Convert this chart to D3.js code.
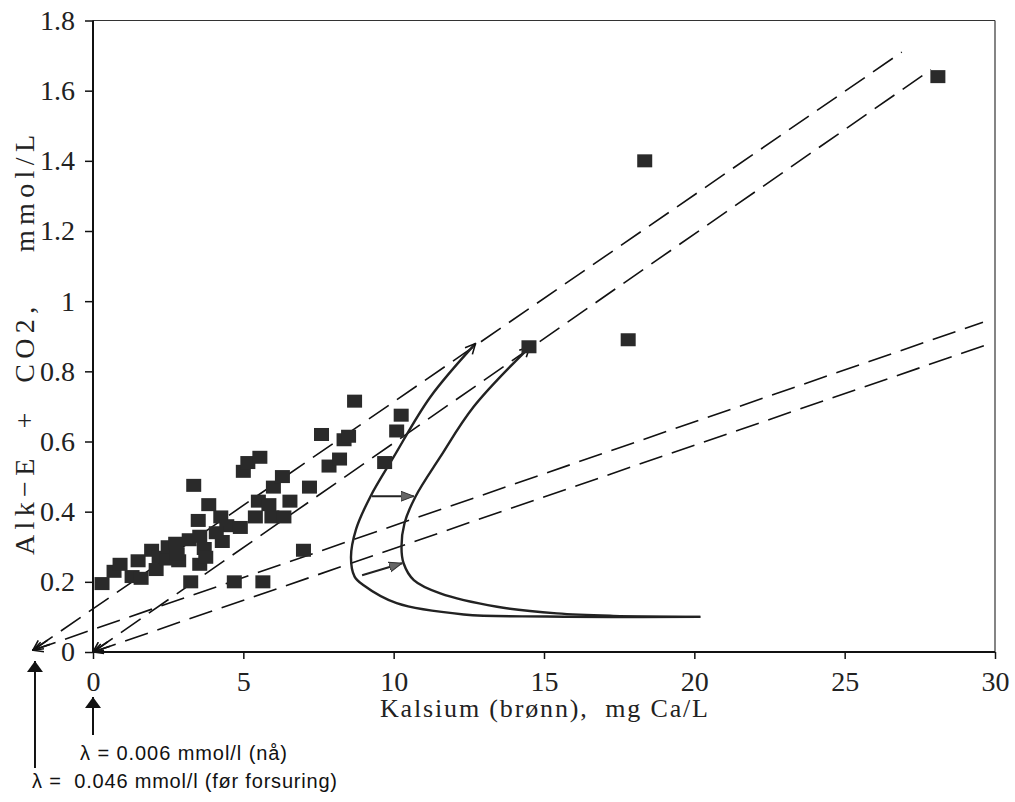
<!DOCTYPE html>
<html><head><meta charset="utf-8">
<script src="https://cdn.jsdelivr.net/npm/d3@7/dist/d3.min.js"></script>
<style>body{margin:0;background:#fff}svg{display:block}</style>
</head><body><svg id="c" width="1015" height="802"></svg>
<script>
// ---------- data ----------
const xTicks = [0, 5, 10, 15, 20, 25, 30];
const yTicks = [0, 0.2, 0.4, 0.6, 0.8, 1, 1.2, 1.4, 1.6, 1.8];
const xTitle = "Kalsium (brønn),  mg Ca/L";
const yTitle = "Alk\u2212E  +  CO2,    mmol/L";

// well samples: calcium (mg Ca/L) and Alk-E + CO2 (mmol/L)
const wellCa  = [0.3,0.7,0.9,1.3,1.6,1.5,1.95,2.1,2.2,2.45,2.5,2.85,2.75,2.8,3.2,3.5,3.35,3.85,3.55,3.55,3.7,3.75,4.25,4.45,4.3,4.1,4.9,3.25,4.7,5.0,5.15,5.55,5.5,5.85,5.4,5.95,6.35,5.65,6.0,6.3,6.55,7.2,7.0,7.6,7.85,8.2,8.35,8.5,8.7,10.25,10.1,9.7,14.5,17.8,18.35,28.1];
const wellAlk = [0.195,0.23,0.25,0.215,0.21,0.26,0.29,0.235,0.27,0.265,0.30,0.26,0.31,0.28,0.32,0.375,0.475,0.42,0.33,0.25,0.295,0.27,0.385,0.36,0.315,0.34,0.355,0.20,0.20,0.515,0.54,0.555,0.43,0.42,0.385,0.385,0.385,0.20,0.47,0.50,0.43,0.47,0.29,0.62,0.53,0.55,0.605,0.615,0.715,0.675,0.63,0.54,0.87,0.89,1.40,1.64];

// reference lines (start point, end point)
const lineSteepBefore  = [[-2.0, 0.005], [26.9, 1.71]];
const lineSteepNow     = [[0, 0], [27.87, 1.66]];
const lineShallowBefore= [[-2.0, 0.005], [29.6, 0.94]];
const lineShallowNow   = [[0, 0], [29.87, 0.88]];

// model curves
const curveBefore = [[12.72,0.879],[11.22,0.727],[10.0,0.556],[9.22,0.442],[8.75,0.35],[8.58,0.27],[8.7,0.215],[9.0,0.19],[10.1,0.139],[12.33,0.107],[15.1,0.101],[20.2,0.10]];
const curveNow    = [[14.53,0.87],[12.66,0.699],[11.55,0.556],[10.72,0.442],[10.36,0.367],[10.26,0.30],[10.33,0.253],[10.67,0.205],[11.55,0.167],[13.44,0.129],[15.43,0.11],[17.3,0.103],[20.2,0.10]];

// shift arrows
const shiftArrows = [[[9.28,0.444],[10.67,0.444]], [[8.95,0.219],[10.28,0.253]]];

// lambda annotations
const lambdaX = [0, -1.93];
const lambdaText = ["\u03bb = 0.006 mmol/l (nå)", "\u03bb =  0.046 mmol/l (før forsuring)"];

// ---------- drawing ----------
const svg = d3.select("#c");
const x = d3.scaleLinear().domain([0, 30]).range([93, 995]);
const y = d3.scaleLinear().domain([0, 1.8]).range([652, 20.5]);
const serif = "'Liberation Serif','DejaVu Serif',serif";
const sans = "'Liberation Sans',Arial,sans-serif";

const defs = svg.append("defs");
defs.append("marker").attr("id","openArrow").attr("viewBox","0 0 12 12")
  .attr("refX",11).attr("refY",6).attr("markerWidth",12).attr("markerHeight",12)
  .attr("markerUnits","userSpaceOnUse").attr("orient","auto-start-reverse")
  .append("path").attr("d","M1,1 L11,6 L1,11").attr("fill","none").attr("stroke","#111").attr("stroke-width",1.6);
defs.append("marker").attr("id","solidArrow").attr("viewBox","0 0 14 12")
  .attr("refX",13).attr("refY",6).attr("markerWidth",14).attr("markerHeight",12)
  .attr("markerUnits","userSpaceOnUse").attr("orient","auto")
  .append("path").attr("d","M0,1 L13,6 L0,11 Z").attr("fill","#666").attr("stroke","#333").attr("stroke-width",1);
defs.append("marker").attr("id","blackArrow").attr("viewBox","0 0 12 20")
  .attr("refX",11).attr("refY",10).attr("markerWidth",12).attr("markerHeight",20)
  .attr("markerUnits","userSpaceOnUse").attr("orient","auto")
  .append("path").attr("d","M0,2 L11,10 L0,18 Z").attr("fill","#111");

// frame
svg.append("line").attr("x1",x(0)).attr("x2",x(30)).attr("y1",y(1.8)).attr("y2",y(1.8)).attr("stroke","#333").attr("stroke-width",1.2);
svg.append("line").attr("x1",x(30)).attr("x2",x(30)).attr("y1",y(1.8)).attr("y2",y(0)).attr("stroke","#333").attr("stroke-width",1.2);

// axes
const gx = svg.append("g").attr("transform",`translate(0,${y(0)})`)
  .call(d3.axisBottom(x).tickValues(xTicks).tickSize(7).tickPadding(12).tickFormat(d3.format("~g")));
const gy = svg.append("g").attr("transform",`translate(${x(0)},0)`)
  .call(d3.axisLeft(y).tickValues(yTicks).tickSize(8).tickPadding(10).tickFormat(d3.format("~g")));
[gx, gy].forEach(g => {
  g.select(".domain").attr("stroke","#111").attr("stroke-width",2);
  g.selectAll(".tick line").attr("stroke","#111").attr("stroke-width",1.5);
  g.selectAll(".tick text").attr("font-family",serif).attr("font-size",28).attr("fill","#222");
});
gx.select(".domain").attr("d",`M${x(0)},0H${x(30)}`);
gy.select(".domain").attr("d",`M0,${y(0)}V${y(1.8)}`);

// titles
svg.append("text").attr("x",544).attr("y",717).attr("text-anchor","middle")
  .attr("font-family",serif).attr("font-size",26).attr("fill","#222")
  .attr("textLength",328).attr("lengthAdjust","spacing").style("white-space","pre").text(xTitle);
svg.append("text").attr("transform","translate(34,345) rotate(-90)").attr("text-anchor","middle")
  .attr("font-family",serif).attr("font-size",28).attr("fill","#222")
  .attr("textLength",420).attr("lengthAdjust","spacing").style("white-space","pre").text(yTitle);

// dashed reference lines
const lineGen = d3.line().x(d => x(d[0])).y(d => y(d[1]));
[lineSteepBefore, lineSteepNow, lineShallowBefore, lineShallowNow].forEach(L => {
  svg.append("path").attr("d", lineGen(L)).attr("fill","none").attr("stroke","#111")
    .attr("stroke-width",1.6).attr("stroke-dasharray","24,10");
  const p0 = [x(L[0][0]), y(L[0][1])], p1 = [x(L[1][0]), y(L[1][1])];
  const len = Math.hypot(p1[0]-p0[0], p1[1]-p0[1]);
  const q = [p0[0] + (p1[0]-p0[0]) * 18/len, p0[1] + (p1[1]-p0[1]) * 18/len];
  svg.append("path").attr("d", `M${q[0]},${q[1]}L${p0[0]},${p0[1]}`).attr("stroke","#111")
    .attr("stroke-width",1.6).attr("fill","none").attr("marker-end","url(#openArrow)");
});

// model curves
const curveGen = d3.line().x(d => x(d[0])).y(d => y(d[1])).curve(d3.curveCatmullRom.alpha(0.5));
[curveBefore, curveNow].forEach(C => {
  svg.append("path").attr("d", curveGen(C.slice().reverse())).attr("fill","none")
    .attr("stroke","#222").attr("stroke-width",2.4).attr("marker-end","url(#openArrow)");
});

// shift arrows
shiftArrows.forEach(A => {
  svg.append("path").attr("d", lineGen(A)).attr("stroke","#222").attr("stroke-width",2)
    .attr("fill","none").attr("marker-end","url(#solidArrow)");
});

// points
svg.append("g").selectAll("rect").data(d3.range(wellCa.length)).join("rect")
  .attr("x", i => x(wellCa[i]) - 7.5).attr("y", i => y(wellAlk[i]) - 6.5)
  .attr("width",15).attr("height",13).attr("fill","#2a2a2a");

// lambda annotations
svg.append("path").attr("d",`M${x(lambdaX[0])},735V697`).attr("stroke","#111").attr("stroke-width",2).attr("marker-end","url(#blackArrow)");
svg.append("path").attr("d",`M${x(lambdaX[1])},768V661`).attr("stroke","#111").attr("stroke-width",2).attr("marker-end","url(#blackArrow)");
svg.append("text").attr("x",80).attr("y",760).attr("font-family",sans).attr("font-size",20).attr("fill","#111")
  .attr("textLength",207).attr("lengthAdjust","spacing").style("white-space","pre").text(lambdaText[0]);
svg.append("text").attr("x",32).attr("y",788).attr("font-family",sans).attr("font-size",20).attr("fill","#111")
  .attr("textLength",305).attr("lengthAdjust","spacing").style("white-space","pre").text(lambdaText[1]);
</script></body></html>
